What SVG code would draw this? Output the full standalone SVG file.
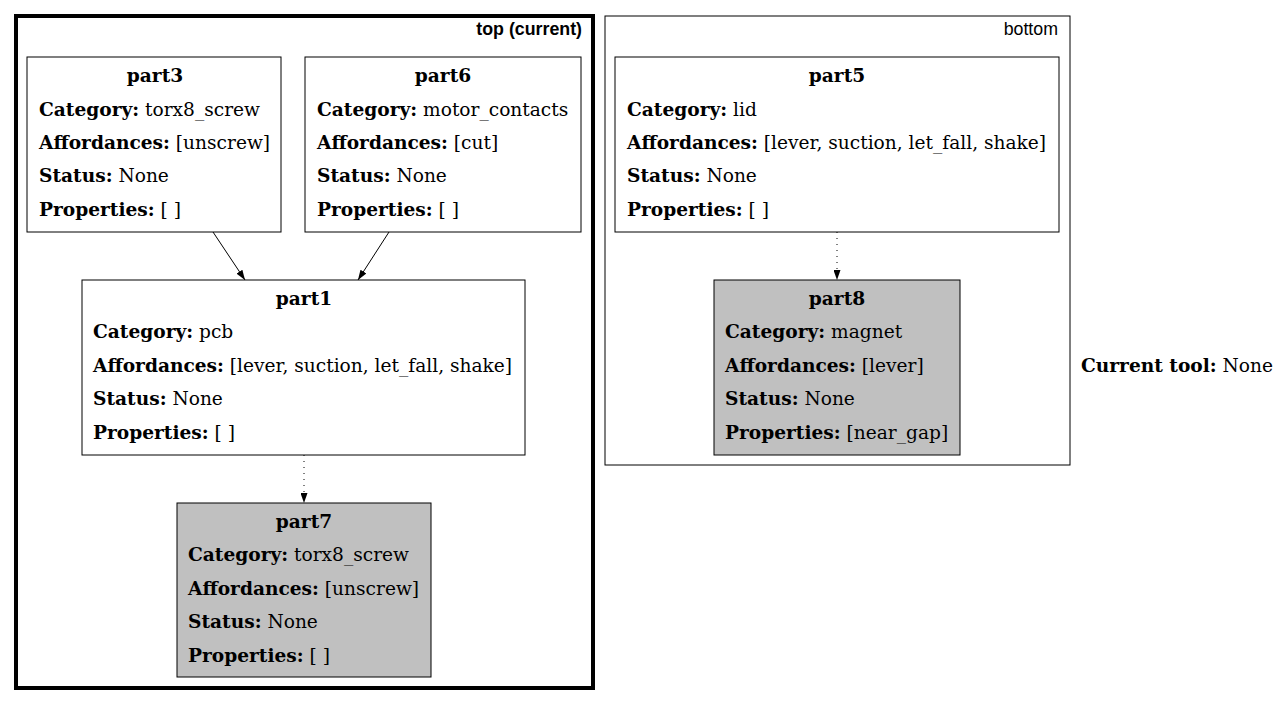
<svg xmlns="http://www.w3.org/2000/svg" width="1281" height="704" viewBox="0 0 1281 704">
<style>
text{font-family:"DejaVu Serif",serif;font-size:18.6px;fill:#000}
.b{font-weight:bold}
.t{text-anchor:middle;font-weight:bold}
.cl{font-family:"Liberation Sans",Arial,sans-serif;font-size:17.8px;text-anchor:end}
.n{fill:#fff;stroke:#000;stroke-width:1}
.g{fill:#c0c0c0;stroke:#000;stroke-width:1}
.e{stroke:#000;stroke-width:1;fill:none}
.d{stroke-dasharray:1,5}
</style>
<defs>
<marker id="ah" markerWidth="10" markerHeight="7" refX="10" refY="3.5" orient="auto" markerUnits="userSpaceOnUse">
<path d="M0,0 L10,3.5 L0,7 Z" fill="#000"/>
</marker>
</defs>
<rect width="1281" height="704" fill="#fff"/>
<g id="cluster_top">
<rect x="16" y="16" width="577" height="672" fill="none" stroke="#000" stroke-width="4"/>
<text x="582" y="35" class="cl" font-weight="bold">top (current)</text>
</g>
<g id="cluster_bottom">
<rect x="605" y="16" width="465" height="449" fill="none" stroke="#000" stroke-width="1"/>
<text x="1058" y="35" class="cl">bottom</text>
</g>
<g id="part3">
<rect x="27" y="57" width="254" height="175" class="n"/>
<text x="155" y="82" class="t">part3</text>
<text x="39" y="116"><tspan class="b">Category:</tspan> torx8_screw</text>
<text x="39" y="149"><tspan class="b">Affordances:</tspan> [unscrew]</text>
<text x="39" y="182"><tspan class="b">Status:</tspan> None</text>
<text x="39" y="216"><tspan class="b">Properties:</tspan> [ ]</text>
</g>
<g id="part6">
<rect x="305" y="57" width="276" height="175" class="n"/>
<text x="443" y="82" class="t">part6</text>
<text x="317" y="116"><tspan class="b">Category:</tspan> motor_contacts</text>
<text x="317" y="149"><tspan class="b">Affordances:</tspan> [cut]</text>
<text x="317" y="182"><tspan class="b">Status:</tspan> None</text>
<text x="317" y="216"><tspan class="b">Properties:</tspan> [ ]</text>
</g>
<g id="part1">
<rect x="82" y="280" width="443" height="175" class="n"/>
<text x="304" y="305" class="t">part1</text>
<text x="93" y="338"><tspan class="b">Category:</tspan> pcb</text>
<text x="93" y="372"><tspan class="b">Affordances:</tspan> [lever, suction, let_fall, shake]</text>
<text x="93" y="405"><tspan class="b">Status:</tspan> None</text>
<text x="93" y="439"><tspan class="b">Properties:</tspan> [ ]</text>
</g>
<g id="part7">
<rect x="177" y="503" width="254" height="174" class="g"/>
<text x="304" y="528" class="t">part7</text>
<text x="188" y="561"><tspan class="b">Category:</tspan> torx8_screw</text>
<text x="188" y="595"><tspan class="b">Affordances:</tspan> [unscrew]</text>
<text x="188" y="628"><tspan class="b">Status:</tspan> None</text>
<text x="188" y="662"><tspan class="b">Properties:</tspan> [ ]</text>
</g>
<g id="part5">
<rect x="615" y="57" width="444" height="175" class="n"/>
<text x="837" y="82" class="t">part5</text>
<text x="627" y="116"><tspan class="b">Category:</tspan> lid</text>
<text x="627" y="149"><tspan class="b">Affordances:</tspan> [lever, suction, let_fall, shake]</text>
<text x="627" y="182"><tspan class="b">Status:</tspan> None</text>
<text x="627" y="216"><tspan class="b">Properties:</tspan> [ ]</text>
</g>
<g id="part8">
<rect x="714" y="280" width="246" height="175" class="g"/>
<text x="837" y="305" class="t">part8</text>
<text x="725" y="338"><tspan class="b">Category:</tspan> magnet</text>
<text x="725" y="372"><tspan class="b">Affordances:</tspan> [lever]</text>
<text x="725" y="405"><tspan class="b">Status:</tspan> None</text>
<text x="725" y="439"><tspan class="b">Properties:</tspan> [near_gap]</text>
</g>
<g id="current_tool">
<text x="1081" y="372"><tspan class="b">Current tool:</tspan> None</text>
</g>
<g id="connectors">
<path d="M213,232 L245,280" class="e" marker-end="url(#ah)"/>
<path d="M389,232 L358,280" class="e" marker-end="url(#ah)"/>
<path d="M304,455 L304,503" class="e d" marker-end="url(#ah)"/>
<path d="M837,232 L837,280" class="e d" marker-end="url(#ah)"/>
</g>
</svg>
